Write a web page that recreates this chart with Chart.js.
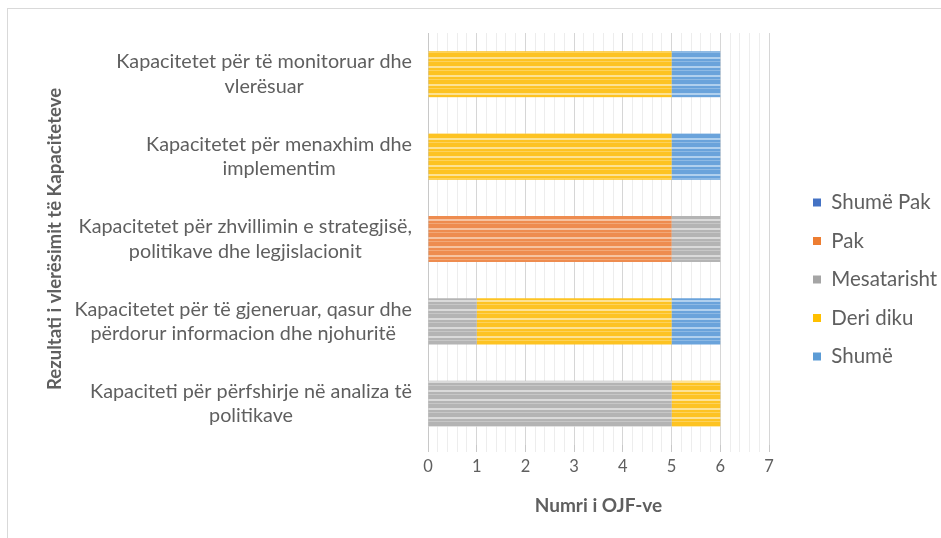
<!DOCTYPE html>
<html>
<head>
<meta charset="utf-8">
<script src="https://cdn.jsdelivr.net/npm/chart.js@4.4.1/dist/chart.umd.min.js"></script>
<style>
  html, body { margin: 0; padding: 0; background: #fff; }
  #wrap { position: absolute; left: 0; top: 0; width: 941px; height: 538px; overflow: hidden; }
  #frame { position: absolute; left: 7px; top: 8px; width: 960px; height: 560px; border: 1px solid #d9d9d9; }
  canvas { position: absolute; left: 0; top: 0; }
</style>
</head>
<body>
<div id="wrap">
  <div id="frame"></div>
  <canvas id="c" width="941" height="538"></canvas>
</div>
<script>
const categories = [
  ["Kapacitetet për të monitoruar dhe", "vlerësuar"],
  ["Kapacitetet për menaxhim dhe", "implementim"],
  ["Kapacitetet për zhvillimin e strategjisë,", "politikave dhe legjislacionit"],
  ["Kapacitetet për të gjeneruar, qasur dhe", "përdorur informacion dhe njohuritë"],
  ["Kapaciteti për përfshirje në analiza të", "politikave"]
];
const seriesNames = ["Shumë Pak", "Pak", "Mesatarisht", "Deri diku", "Shumë"];
const shumePak    = [0, 0, 0, 0, 0];
const pak         = [0, 0, 5, 0, 0];
const mesatarisht = [0, 0, 1, 1, 5];
const deriDiku    = [5, 5, 0, 4, 1];
const shume       = [1, 1, 0, 1, 0];
const xTicks = [0, 1, 2, 3, 4, 5, 6, 7];
const yTitle = "Rezultati i vlerësimit të Kapaciteteve";
const xTitle = "Numri i OJF-ve";

const FONT = "Lato, 'Open Sans', sans-serif";
const TXT = "#5f5f5f";

function stripes(base, light) {
  const p = document.createElement('canvas');
  p.width = 4; p.height = 9;
  const g = p.getContext('2d');
  g.fillStyle = base; g.fillRect(0, 0, 4, 9);
  g.fillStyle = light; g.fillRect(0, 3, 4, 2);
  g.globalAlpha = 0.5; g.fillRect(0, 7, 4, 1);
  return document.getElementById('c').getContext('2d').createPattern(p, 'repeat');
}
const colors = [
  { solid: '#4472C4', fill: stripes('#4f7bc8', '#8aa8dc') },
  { solid: '#ED7D31', fill: stripes('#ee8c4f', '#f6c3a0') },
  { solid: '#A5A5A5', fill: stripes('#b4b4b4', '#dadada') },
  { solid: '#FFC000', fill: stripes('#fdc322', '#fde293') },
  { solid: '#5B9BD5', fill: stripes('#6aa3db', '#b0d0ee') }
];
const seriesData = [shumePak, pak, mesatarisht, deriDiku, shume];

const catLabelPlugin = {
  id: 'catLabels',
  afterDraw(chart) {
    const y = chart.scales.y;
    const ctx = chart.ctx;
    ctx.save();
    ctx.font = "19.8px " + FONT;
    ctx.fillStyle = TXT;
    ctx.textAlign = 'center';
    ctx.textBaseline = 'middle';
    const lh = 24.5;
    const rightEdge = chart.chartArea.left - 16;
    chart.data.labels.forEach((lab, i) => {
      const lines = Array.isArray(lab) ? lab : [lab];
      const w = Math.max(...lines.map(l => ctx.measureText(l).width));
      const cx = rightEdge - w / 2;
      const cy = y.getPixelForTick(i);
      lines.forEach((l, k) => {
        ctx.fillText(l, cx, cy + (k - (lines.length - 1) / 2) * lh);
      });
    });
    ctx.restore();
  }
};

const legendFixPlugin = {
  id: 'legendFix',
  beforeLayout(chart) {
    const lg = chart.legend;
    if (lg && !lg._wrapped) {
      lg._wrapped = true;
      const of = lg.fit.bind(lg);
      lg.fit = function () { of(); this.width = 941 - 769; };
      const od = lg.draw.bind(lg);
      lg.draw = function () {
        const c = this.ctx; c.save(); c.translate(26, -1); od(); c.restore();
      };
    }
  }
};

new Chart(document.getElementById('c'), {
  type: 'bar',
  data: {
    labels: categories,
    datasets: seriesNames.map((n, i) => ({
      label: n,
      data: seriesData[i],
      backgroundColor: colors[i].fill,
      borderWidth: 0,
      barPercentage: 0.56,
      categoryPercentage: 1.0
    }))
  },
  options: {
    indexAxis: 'y',
    responsive: false,
    animation: false,
    layout: { padding: { top: 33, left: 8, right: 0, bottom: 10 } },
    scales: {
      x: {
        stacked: true,
        min: 0, max: 7,
        afterFit(s) { s.height = 538 - 10 - 445; },
        ticks: {
          stepSize: 0.2,
          autoSkip: false,
          maxRotation: 0,
          padding: 5,
          color: TXT,
          font: { family: FONT, size: 16.5 },
          callback(v) { return Math.abs(v - Math.round(v)) < 1e-6 && xTicks.includes(Math.round(v)) ? String(Math.round(v)) : ''; }
        },
        grid: {
          color(ctx) { const v = ctx.tick ? ctx.tick.value : 0; return Math.abs(v - Math.round(v)) < 1e-6 ? '#d6d6d6' : '#ededed'; },
          tickColor(ctx) { const v = ctx.tick ? ctx.tick.value : 0; return Math.abs(v - Math.round(v)) < 1e-6 ? '#c8c8c8' : '#ededed'; },
          tickLength: 7,
          lineWidth: 1
        },
        border: { display: false },
        title: {
          display: true, text: xTitle, color: TXT,
          font: { family: FONT, size: 19, weight: 'bold' },
          padding: { top: 4, bottom: 11 }
        }
      },
      y: {
        stacked: true,
        afterFit(s) { s.width = 428 - 8; },
        ticks: { display: false },
        grid: { display: false },
        border: { display: true, color: '#c8c8c8' },
        title: {
          display: true, text: yTitle, color: TXT,
          font: { family: FONT, size: 18.6, weight: 'bold' },
          padding: { top: 36, bottom: 0 }
        }
      }
    },
    plugins: {
      legend: {
        position: 'right',
        align: 'center',
        labels: {
          color: TXT,
          font: { family: FONT, size: 20.5 },
          boxWidth: 8, boxHeight: 8,
          padding: 18,
          generateLabels(chart) {
            return chart.data.datasets.map((d, i) => ({
              text: d.label, fillStyle: colors[i].solid, strokeStyle: colors[i].solid,
              lineWidth: 0, hidden: false, datasetIndex: i, fontColor: TXT
            }));
          }
        }
      },
      tooltip: { enabled: false }
    }
  },
  plugins: [catLabelPlugin, legendFixPlugin]
});
</script>
</body>
</html>
